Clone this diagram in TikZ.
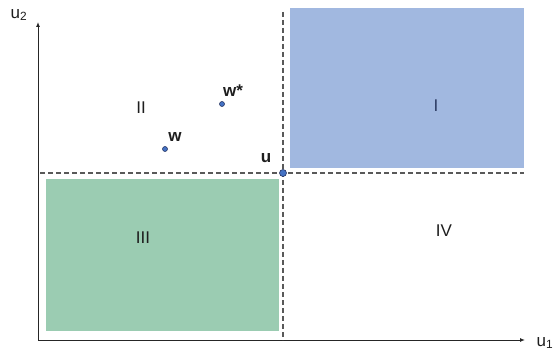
\documentclass[tikz,border=0pt]{standalone}
\usepackage{fontspec}
\setmainfont{Liberation Sans}
\usetikzlibrary{arrows.meta}
\definecolor{boxblue}{RGB}{161,184,224}
\definecolor{boxgreen}{RGB}{155,204,178}
\definecolor{dotblue}{RGB}{68,114,196}
\definecolor{dotline}{RGB}{40,55,100}
\definecolor{txtdark}{RGB}{30,30,30}
\definecolor{txtnavy}{RGB}{45,60,100}
\begin{document}
\begin{tikzpicture}[x=1pt,y=-1pt,
  axis/.style={line width=1pt, draw=black!85, -{Latex[length=5pt,width=4pt]}},
  guide/.style={dash pattern=on 5pt off 3pt, line width=1.3pt, draw=black!65},
  lbl/.style={font=\fontsize{17}{17}\selectfont, inner sep=0pt, text=txtdark},
  blbl/.style={font=\fontsize{17}{17}\selectfont\bfseries, inner sep=0pt, text=txtdark},
  dot/.style={circle, fill=dotblue, draw=dotline, line width=0.6pt, inner sep=0pt, minimum size=5pt}]
\useasboundingbox (0,0) rectangle (556,352);
% regions
\fill[boxblue] (290,8) rectangle (524,168);
\fill[boxgreen] (46,179) rectangle (279,331);
% axes
\coordinate (O) at (38,340);
\coordinate (ytop) at (38,22);
\coordinate (xend) at (525,340);
\draw[axis] (O) -- (ytop);
\draw[axis] (O) -- (xend);
% guides
\coordinate (hl) at (40,173);
\coordinate (hr) at (524,173);
\coordinate (vt) at (283,12);
\coordinate (vb) at (283,340);
\draw[guide] (hl) -- (hr);
\draw[guide] (vt) -- (vb);
% points
\node[dot, minimum size=7pt] (u) at (283,173) {};
\node[dot] (w) at (165,149) {};
\node[dot] (ws) at (222,104) {};
% labels
\node[lbl] (u2) at (19,15) {u\textsubscript{2}};
\node[lbl] (u1) at (545,343) {u\textsubscript{1}};
\node[lbl, text=txtnavy] (r1) at (436,106) {I};
\node[lbl] (r2) at (141,108) {II};
\node[lbl] (r3) at (143,238) {III};
\node[lbl] (r4) at (444,231) {IV};
\node[blbl] (wl) at (175,137) {w};
\node[blbl] (wsl) at (233,91) {w*};
\node[blbl] (ul) at (266,158) {u};
\end{tikzpicture}
\end{document}
